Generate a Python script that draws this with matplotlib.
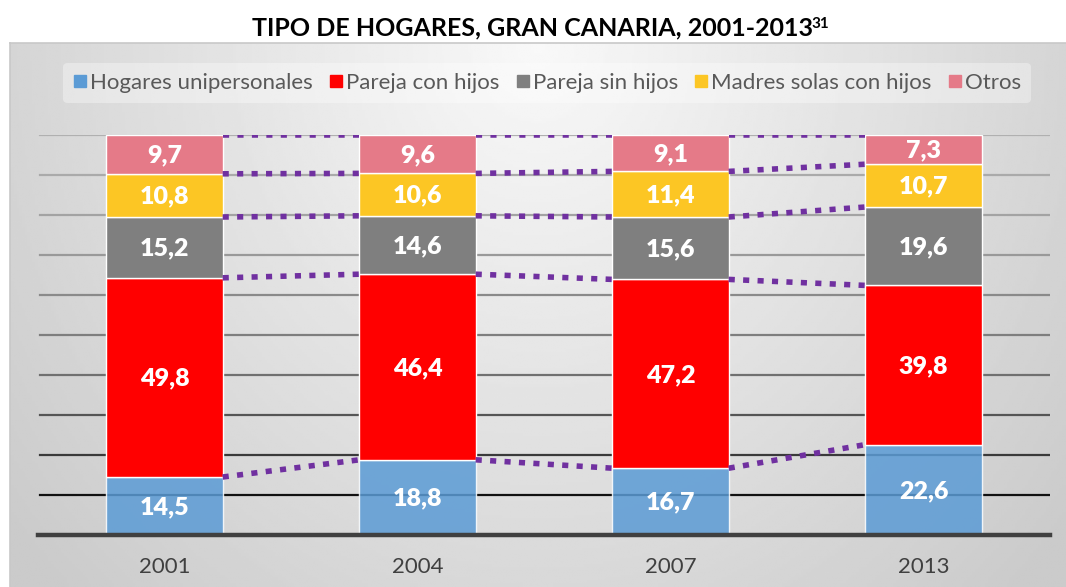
import numpy as np
import matplotlib
matplotlib.use("Agg")
import matplotlib.pyplot as plt
from matplotlib.lines import Line2D

# ============================================================
# DATA
# ============================================================

years = ["2001", "2004", "2007", "2013"]

series_names = [
    "Hogares unipersonales",
    "Pareja con hijos",
    "Pareja sin hijos",
    "Madres solas con hijos",
    "Otros",
]

unipersonales = [14.5, 18.8, 16.7, 22.6]
pareja_con_hijos = [49.8, 46.4, 47.2, 39.8]
pareja_sin_hijos = [15.2, 14.6, 15.6, 19.6]
madres_solas = [10.8, 10.6, 11.4, 10.7]
otros = [9.7, 9.6, 9.1, 7.3]

series_values = [unipersonales, pareja_con_hijos, pareja_sin_hijos, madres_solas, otros]

colors = ["#5b9bd5", "#ff0000", "#7f7f7f", "#fcc624", "#e57a88"]
alphas = [0.85, 1, 1, 1, 1]

plt.rcParams["font.family"] = ["Lato", "DejaVu Sans"]

W, H = 1066, 587
fig = plt.figure(figsize=(W / 100, H / 100), dpi=100)

# ============================================================
# CHART BACKGROUND (grey radial gradient)
# ============================================================

bg_left, bg_top = 10, 43
bg = fig.add_axes([bg_left / W, 0, 1 - bg_left / W, (H - bg_top) / H], zorder=0)
gx, gy = np.meshgrid(np.linspace(-1, 1, 400), np.linspace(0, 1, 200))
r = np.sqrt((gx / 1.0) ** 2 + (gy / 1.1) ** 2)
shade = 0.975 - 0.14 * np.clip(r, 0, 1.3)
bg.imshow(shade, cmap="gray", vmin=0, vmax=1, aspect="auto",
          extent=(0, 1, 0, 1), origin="upper")
bg.set_xlim(0, 1)
bg.set_ylim(0, 1)
bg.set_xticks([])
bg.set_yticks([])
for side in ["right", "bottom"]:
    bg.spines[side].set_visible(False)
for side in ["left", "top"]:
    bg.spines[side].set_color("#c8c8c8")
    bg.spines[side].set_linewidth(1.2)

# ============================================================
# PLOT AREA
# ============================================================

left, right, top, bottom = 38, 1050, 135, 535
ax = fig.add_axes([left / W, 1 - bottom / H, (right - left) / W, (bottom - top) / H], zorder=2)
ax.patch.set_alpha(0)

x = np.arange(len(years))
bar_width = 0.46

# gridlines, lighter at top, darker towards the bottom
grid_levels = np.arange(10, 101, 10)
grid_colors = ["#111111", "#3a3a3a", "#555555", "#707070", "#7e7e7e",
               "#8a8a8a", "#999999", "#a3a3a3", "#aaaaaa", "#b0b0b0"]
for lvl, c in zip(grid_levels, grid_colors):
    ax.axhline(lvl, xmin=0.002, xmax=1, color=c, linewidth=1.6, zorder=1)

bottoms = np.zeros(len(years))
for name, vals, col, a in zip(series_names, series_values, colors, alphas):
    vals = np.array(vals)
    ax.bar(x, vals, bar_width, bottom=bottoms, color=col, alpha=a,
           edgecolor="white", linewidth=1.0, label=name, zorder=3)
    for xi, b, v in zip(x, bottoms, vals):
        ax.text(xi, b + v / 2 - 0.3, f"{v:.1f}".replace(".", ","),
                ha="center", va="center", color="white",
                fontsize=18, fontweight="heavy", zorder=5)
    bottoms = bottoms + vals

    # series lines between bars
    for i in range(len(years) - 1):
        ax.plot([x[i] + bar_width / 2, x[i + 1] - bar_width / 2],
                [bottoms[i], bottoms[i + 1]],
                color="#7030a0", linewidth=4.0,
                linestyle=(0, (1.1, 1.5)), solid_capstyle="butt",
                dash_capstyle="butt", zorder=4)

ax.set_xlim(-0.5, 3.5)
ax.set_ylim(0, 100)
ax.set_yticks([])
ax.set_xticks(x)
ax.set_xticklabels(years, fontsize=16, color="#404040")
ax.tick_params(axis="x", length=0, pad=16)
for side in ["left", "right", "top"]:
    ax.spines[side].set_visible(False)
ax.spines["bottom"].set_color("#404040")
ax.spines["bottom"].set_linewidth(3.2)
ax.spines["bottom"].set_zorder(6)

# ============================================================
# LEGEND
# ============================================================

handles = [Line2D([], [], marker="s", linestyle="none", markersize=8,
                  markerfacecolor=c, markeredgecolor=c) for c in colors]
leg = fig.legend(handles, series_names, loc="center",
                 bbox_to_anchor=(547 / W, 1 - 83 / H), ncol=5,
                 fontsize=16, frameon=True, handlelength=0.6,
                 handletextpad=0.15, columnspacing=0.75,
                 borderpad=0.45)
leg.get_frame().set_facecolor("white")
leg.get_frame().set_alpha(0.35)
leg.get_frame().set_edgecolor("none")
leg.set_zorder(3)
for t in leg.get_texts():
    t.set_color("#595959")

# ============================================================
# TITLE WITH SUPERSCRIPT
# ============================================================

title = fig.text(533 / W, 1 - 28 / H, "TIPO DE HOGARES, GRAN CANARIA, 2001-2013",
                 ha="center", va="center", fontsize=18, fontweight="bold",
                 color="black")
fig.canvas.draw()
bb = title.get_window_extent()
fig.text((bb.x1 - 2) / W, (bb.y1 - 1) / H, "31", ha="left", va="top",
         fontsize=11, fontweight="bold", color="black")

fig.savefig("out.png", dpi=100)
